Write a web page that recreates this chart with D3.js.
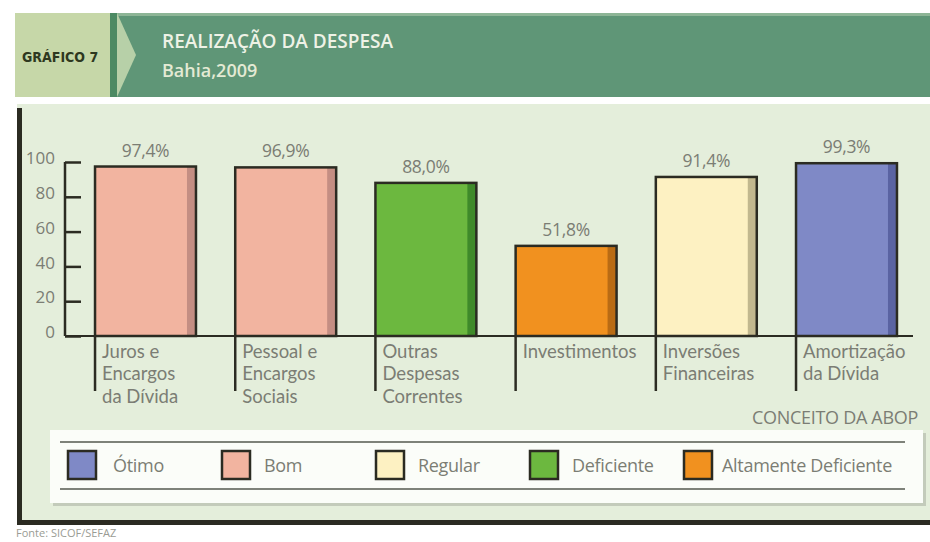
<!DOCTYPE html>
<html>
<head>
<meta charset="utf-8">
<script src="https://cdn.jsdelivr.net/npm/d3@7"></script>
<style>
  body { margin: 0; background: #fff; }
  text { font-family: "Open Sans", sans-serif; }
</style>
</head>
<body>
<svg id="svg1" width="930" height="542"></svg>
<script>
var categories = [
  ["Juros e", "Encargos", "da Dívida"],
  ["Pessoal e", "Encargos", "Sociais"],
  ["Outras", "Despesas", "Correntes"],
  ["Investimentos"],
  ["Inversões", "Financeiras"],
  ["Amortização", "da Dívida"]
];
var values = [97.4, 96.9, 88.0, 51.8, 91.4, 99.3];
var concepts = ["Bom", "Bom", "Deficiente", "Altamente Deficiente", "Regular", "Ótimo"];
var legendLabels = ["Ótimo", "Bom", "Regular", "Deficiente", "Altamente Deficiente"];
var yTicks = [0, 20, 40, 60, 80, 100];

var fills = {"Ótimo": "#7f89c6", "Bom": "#f2b4a0", "Regular": "#fdf1c2", "Deficiente": "#6cb83f", "Altamente Deficiente": "#f1911f"};
var shades = {"Ótimo": "#5a63a2", "Bom": "#c48e83", "Regular": "#c2b88e", "Deficiente": "#3f8a2a", "Altamente Deficiente": "#b96b14"};

var data = values.map(function(v, i) { return {label: categories[i], value: v, concept: concepts[i], i: i}; });

var svg = d3.select("#svg1");
var ink = "#2b2b22", grey = "#7b7d74";
var pct = d3.formatLocale({decimal: ",", thousands: ".", grouping: [3], currency: ["R$", ""]}).format(".1f");

// header
var head = svg.append("g");
head.append("rect").attr("x", 112).attr("y", 13).attr("width", 818).attr("height", 84).attr("fill", "#5f9677");
head.append("rect").attr("x", 112).attr("y", 13).attr("width", 818).attr("height", 3).attr("fill", "#8db596");
head.append("rect").attr("x", 15).attr("y", 13).attr("width", 97).attr("height", 84).attr("fill", "#c6d7a8");
head.append("rect").attr("x", 110).attr("y", 13).attr("width", 7).attr("height", 84).attr("fill", "#4c8a63");
head.append("polygon").attr("points", "117,13 136,55 117,97").attr("fill", "#b7d0a8");
head.append("text").attr("x", 22).attr("y", 62).text("GRÁFICO 7")
  .style("font-family", "'DejaVu Sans Condensed', sans-serif").style("font-weight", "bold").style("font-size", "14px").attr("fill", "#2e3820");
head.append("text").attr("x", 162).attr("y", 48).text("REALIZAÇÃO DA DESPESA")
  .style("font-weight", 600).style("font-size", "19px").attr("fill", "#eef2e6");
head.append("text").attr("x", 162).attr("y", 77).text("Bahia,2009")
  .style("font-weight", 600).style("font-size", "18px").attr("fill", "#e4ead4");

// panel
svg.append("rect").attr("x", 17).attr("y", 104).attr("width", 913).attr("height", 420).attr("fill", "#e4eedb");
svg.append("rect").attr("x", 17).attr("y", 108).attr("width", 5).attr("height", 416).attr("fill", ink);
svg.append("rect").attr("x", 17).attr("y", 520).attr("width", 913).attr("height", 5).attr("fill", ink);

var x = d3.scaleBand().domain(d3.range(data.length)).range([75.4, 916.6]).paddingInner(0.28).paddingOuter(0.14);
var y = d3.scaleLinear().domain([0, 100]).range([336, 162]);

var g = svg.append("g");

// y axis
var yAxis = g.append("g")
  .attr("transform", "translate(65,0)")
  .call(d3.axisRight(y).tickValues(yTicks).tickSize(16).tickFormat(function(d) { return d; }));
yAxis.select(".domain").attr("stroke", ink).attr("stroke-width", 2.5).attr("d", "M0," + y(100) + "V" + y(0));
yAxis.selectAll(".tick line").attr("stroke", ink).attr("stroke-width", 2.5);
yAxis.selectAll(".tick text").attr("x", -10).attr("text-anchor", "end").attr("dy", "0.1em")
  .attr("fill", grey).style("font-size", "17px").style("font-family", "'Open Sans', sans-serif");

// bars
var bars = g.selectAll(".bar").data(data).enter().append("g").attr("class", "bar");
bars.append("rect")
  .attr("x", function(d) { return x(d.i); })
  .attr("y", function(d) { return y(d.value); })
  .attr("width", x.bandwidth())
  .attr("height", function(d) { return y(0) - y(d.value); })
  .attr("fill", function(d) { return fills[d.concept]; });
bars.append("rect")
  .attr("x", function(d) { return x(d.i) + x.bandwidth() - 9; })
  .attr("y", function(d) { return y(d.value); })
  .attr("width", 9)
  .attr("height", function(d) { return y(0) - y(d.value); })
  .attr("fill", function(d) { return shades[d.concept]; });
bars.append("rect")
  .attr("x", function(d) { return x(d.i); })
  .attr("y", function(d) { return y(d.value); })
  .attr("width", x.bandwidth())
  .attr("height", function(d) { return y(0) - y(d.value); })
  .attr("fill", "none").attr("stroke", ink).attr("stroke-width", 2.5);
bars.append("text")
  .attr("x", function(d) { return x(d.i) + x.bandwidth() / 2; })
  .attr("y", function(d) { return y(d.value) - 10; })
  .attr("text-anchor", "middle")
  .attr("fill", grey).style("font-size", "17.5px").style("letter-spacing", "-0.3px")
  .text(function(d) { return pct(d.value) + "%"; });

// baseline and category ticks
g.append("line").attr("x1", 65).attr("x2", 913).attr("y1", y(0)).attr("y2", y(0)).attr("stroke", ink).attr("stroke-width", 2);
bars.append("line")
  .attr("x1", function(d) { return x(d.i); }).attr("x2", function(d) { return x(d.i); })
  .attr("y1", y(0)).attr("y2", 391)
  .attr("stroke", ink).attr("stroke-width", 2.5);
bars.append("text")
  .attr("x", function(d) { return x(d.i) + 7; })
  .attr("y", 358)
  .attr("fill", grey).style("font-family", "Lato, sans-serif").style("font-size", "18.5px")
  .selectAll("tspan").data(function(d) { return d.label; }).enter().append("tspan")
  .attr("x", function() { return x(d3.select(this.parentNode).datum().i) + 7; })
  .attr("dy", function(d, i) { return i ? 22.4 : 0; })
  .text(function(d) { return d; });

svg.append("text").attr("x", 918).attr("y", 424).attr("text-anchor", "end")
  .attr("fill", grey).style("font-size", "18px").style("letter-spacing", "-0.3px").text("CONCEITO DA ABOP");

// legend
var lg = svg.append("g");
lg.append("rect").attr("x", 53).attr("y", 433).attr("width", 873).attr("height", 73).attr("fill", "#c3cbbb");
lg.append("rect").attr("x", 50).attr("y", 430).attr("width", 873).attr("height", 73).attr("fill", "#fbfdf9");
lg.append("line").attr("x1", 60).attr("x2", 905).attr("y1", 442).attr("y2", 442).attr("stroke", "#55584f").attr("stroke-width", 1.5);
lg.append("line").attr("x1", 60).attr("x2", 905).attr("y1", 489).attr("y2", 489).attr("stroke", "#55584f").attr("stroke-width", 1.5);

var lx = d3.scaleLinear().domain([0, 1]).range([68, 222]);
var items = lg.selectAll(".item").data(legendLabels).enter().append("g").attr("class", "item")
  .attr("transform", function(d, i) { return "translate(" + lx(i) + ",451)"; });
items.append("rect").attr("x", 0).attr("y", 0).attr("width", 28).attr("height", 28)
  .attr("fill", function(d) { return fills[d]; }).attr("stroke", ink).attr("stroke-width", 2.5);
items.append("text").attr("x", function(d, i) { return i == 0 ? 45 : (i == 4 ? 38 : 42); }).attr("y", 21)
  .attr("fill", grey).style("font-size", "18px").style("letter-spacing", "-0.3px").text(function(d) { return d; });

svg.append("text").attr("x", 16).attr("y", 537).attr("fill", "#9a9c94").style("font-size", "11px").text("Fonte: SICOF/SEFAZ");
</script>
</body>
</html>
